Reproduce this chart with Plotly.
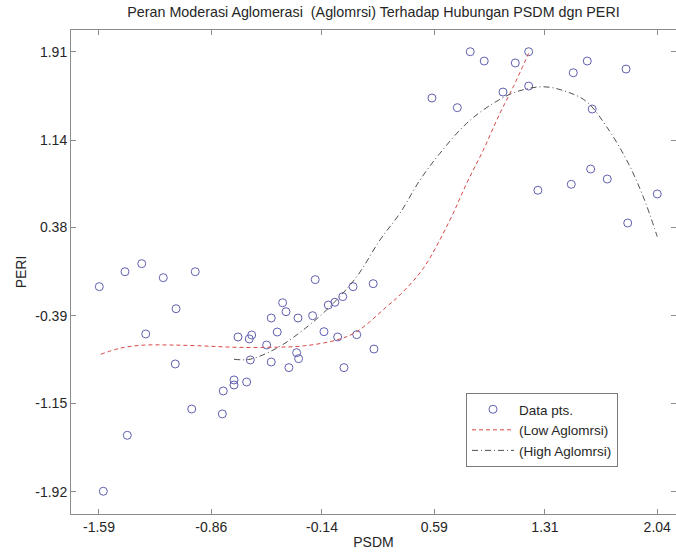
import plotly.graph_objects as go

# Data points (PSDM, PERI)
psdm = [-1.588, -1.421, -1.312, -1.172, -0.964, -1.089, -1.286, -1.094, -0.987, -1.406,
        -1.562, -0.788, -0.782, -0.712, -0.712, -0.630, -0.606, -0.686, -0.613, -0.597,
        -0.500, -0.470, -0.431, -0.396, -0.374, -0.470, -0.355, -0.305, -0.292, -0.296,
        -0.201, -0.184, -0.127, -0.099, -0.056, -0.005, -0.038, 0.003, 0.062, 0.086,
        0.193, 0.198, 0.575, 0.740, 0.824, 0.915, 1.037, 1.117, 1.204, 1.204,
        1.264, 1.481, 1.494, 1.585, 1.607, 1.617, 1.715, 1.837, 1.848, 2.040]
peri = [-0.135, -0.005, 0.065, -0.057, -0.005, -0.327, -0.547, -0.808, -1.200, -1.429,
        -1.916, -1.243, -1.043, -0.991, -0.947, -0.965, -0.773, -0.573, -0.590, -0.556,
        -0.643, -0.408, -0.530, -0.275, -0.353, -0.791, -0.840, -0.710, -0.762, -0.408,
        -0.388, -0.074, -0.527, -0.295, -0.271, -0.222, -0.573, -0.840, -0.135, -0.553,
        -0.109, -0.678, 1.507, 1.423, 1.910, 1.829, 1.559, 1.812, 1.910, 1.611,
        0.704, 0.756, 1.727, 1.829, 0.889, 1.411, 0.802, 1.759, 0.419, 0.672]

# Low Aglomrsi fitted curve
low_x = [-1.579, -1.453, -1.312, -1.128, -0.912, -0.695, -0.478, -0.262, -0.044, 0.086,
         0.281, 0.367, 0.519, 0.692, 0.801, 0.909, 1.017, 1.104, 1.204]
low_y = [-0.724, -0.671, -0.645, -0.643, -0.651, -0.663, -0.663, -0.651, -0.599, -0.527,
         -0.309, -0.207, 0.025, 0.445, 0.765, 1.054, 1.374, 1.605, 1.896]

# High Aglomrsi fitted curve
high_x = [-0.712, -0.608, -0.435, -0.262, -0.088, 0.086, 0.237, 0.367, 0.497, 0.627,
          0.801, 0.974, 1.126, 1.299, 1.451, 1.581, 1.711, 1.841, 1.949, 2.040]
high_y = [-0.767, -0.767, -0.671, -0.512, -0.309, -0.048, 0.271, 0.504, 0.793, 1.026,
          1.287, 1.461, 1.562, 1.605, 1.562, 1.475, 1.257, 0.967, 0.648, 0.300]

x_ticks = [-1.59, -0.86, -0.14, 0.59, 1.31, 2.04]
y_ticks = [-1.92, -1.15, -0.39, 0.38, 1.14, 1.91]
x_ticklabels = ["-1.59", "-0.86", "-0.14", "0.59", "1.31", "2.04"]
y_ticklabels = ["-1.92", "-1.15", "-0.39", "0.38", "1.14", "1.91"]

FONT = "Liberation Sans, Arial, sans-serif"
TXT = "#262626"
AX = "#8c8c8c"
FS = 14

fig = go.Figure()
fig.add_trace(go.Scatter(
    x=psdm, y=peri, mode="markers", name="Data pts.",
    marker=dict(symbol="circle-open", size=8, color="#6060b0", line=dict(width=1, color="#6060b0")),
))
fig.add_trace(go.Scatter(
    x=low_x, y=low_y, mode="lines", name="(Low Aglomrsi)", line_shape="spline",
    line=dict(color="#d84848", width=1, dash="4px,3px"),
))
fig.add_trace(go.Scatter(
    x=high_x, y=high_y, mode="lines", name="(High Aglomrsi)", line_shape="spline",
    line=dict(color="#505050", width=1, dash="6px,3px,1px,3px"),
))

fig.update_layout(
    width=676, height=553,
    margin=dict(l=71, r=0, t=30, b=39),
    paper_bgcolor="white", plot_bgcolor="white",
    font=dict(family=FONT, size=FS, color=TXT),
    title=dict(text="Peran Moderasi Aglomerasi\u00a0 (Aglomrsi) Terhadap Hubungan PSDM dgn PERI",
               x=0.5, xref="paper", xanchor="center", y=1 - 12 / 553, yanchor="middle",
               font=dict(family=FONT, size=14.3, color=TXT)),
    showlegend=True,
    legend=dict(x=(466 - 71) / 605, y=(514 - 393) / 484, xanchor="left", yanchor="top",
                bgcolor="white", bordercolor="#7a7a7a", borderwidth=1, itemwidth=42,
                font=dict(family=FONT, size=13.5, color=TXT), tracegroupgap=0),
)
fig.update_xaxes(
    range=[-1.772, 2.162], tickmode="array", tickvals=x_ticks, ticktext=x_ticklabels,
    ticks="inside", ticklen=5, tickcolor=AX, showline=True, linecolor=AX, linewidth=1,
    mirror="ticks", showgrid=False, zeroline=False,
    title=dict(text="PSDM", standoff=3, font=dict(family=FONT, size=FS, color=TXT)),
    tickfont=dict(family=FONT, size=FS, color=TXT),
)
fig.update_yaxes(
    range=[-2.114, 2.099], tickmode="array", tickvals=y_ticks, ticktext=y_ticklabels,
    ticks="inside", ticklen=5, tickcolor=AX, showline=True, linecolor=AX, linewidth=1,
    mirror="ticks", showgrid=False, zeroline=False,
    title=dict(text="PERI", standoff=5, font=dict(family=FONT, size=FS, color=TXT)),
    tickfont=dict(family=FONT, size=FS, color=TXT),
)

fig.write_html("out.html")
